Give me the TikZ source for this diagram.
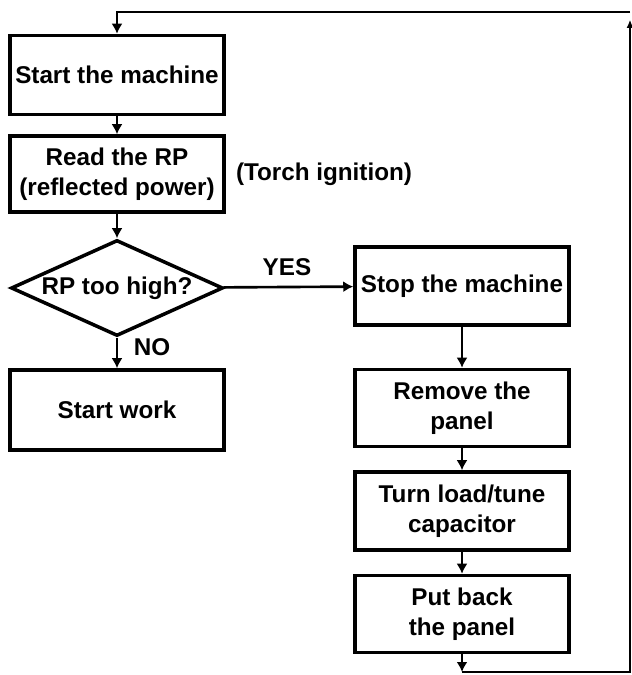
\documentclass[tikz,border=0pt]{standalone}
\usepackage{fontspec}
\setmainfont{Liberation Sans}
\usepackage{tikz}
\usetikzlibrary{arrows.meta,shapes.geometric}

\tikzset{
	box/.style={draw, line width=2pt, minimum width=4.28cm, minimum height=1.56cm, align=center, inner sep=1pt},
	decision/.style={draw, diamond, line width=2pt, aspect=2.2, inner sep=0pt, minimum width=4.24cm, minimum height=1.92cm},
	flow/.style={line width=1.5pt, -{Latex[length=2mm,width=2.2mm]}},
}

\begin{document}
\begin{tikzpicture}[font=\fontsize{13.8}{17}\selectfont\bfseries]
	\useasboundingbox (0, 0) rectangle (12.64, 13.5);

	\node[box, minimum height=1.58cm] (start) at (2.34, 12.0) {Start the machine};
	\node[box, minimum height=1.52cm] (read) at (2.34, 10.02) {Read the RP\\(reflected power)};
	\node[decision] (high) at (2.34, 7.74) {RP too high?};
	\node[box, minimum height=1.6cm] (work) at (2.34, 5.30) {Start work};
	\node[box] (stop) at (9.24, 7.78) {Stop the machine};
	\node[box, minimum height=1.54cm] (remove) at (9.24, 5.34) {Remove the\\panel};
	\node[box] (turn) at (9.24, 3.28) {Turn load/tune\\capacitor};
	\node[box, minimum height=1.54cm] (back) at (9.24, 1.22) {Put back\\the panel};

	\node (torch) at (6.48, 10.02) {(Torch ignition)};
	\node (yes) at (5.74, 8.16) {YES};
	\node (no) at (3.04, 6.56) {NO};

	\coordinate (loopa) at (9.24, 0.06);
	\coordinate (loopb) at (12.6, 0.06);
	\coordinate (loopc) at (12.6, 13.1);
	\coordinate (loopd) at (12.6, 13.26);

	\draw [flow] (start) to (read);
	\draw [flow] (read) to (high);
	\draw [flow] (high) to (work);
	\draw [flow] (high) to (stop);
	\draw [flow] (stop) to (remove);
	\draw [flow] (remove) to (turn);
	\draw [flow] (turn) to (back);
	\draw [flow] (back) to (loopa);
	\draw [line width=0.6pt, -{Latex[length=1.6mm,width=1.4mm]}] (loopa) -- (loopb) -- (loopc);
	\draw [flow] (loopd) -| (start);
\end{tikzpicture}
\end{document}
